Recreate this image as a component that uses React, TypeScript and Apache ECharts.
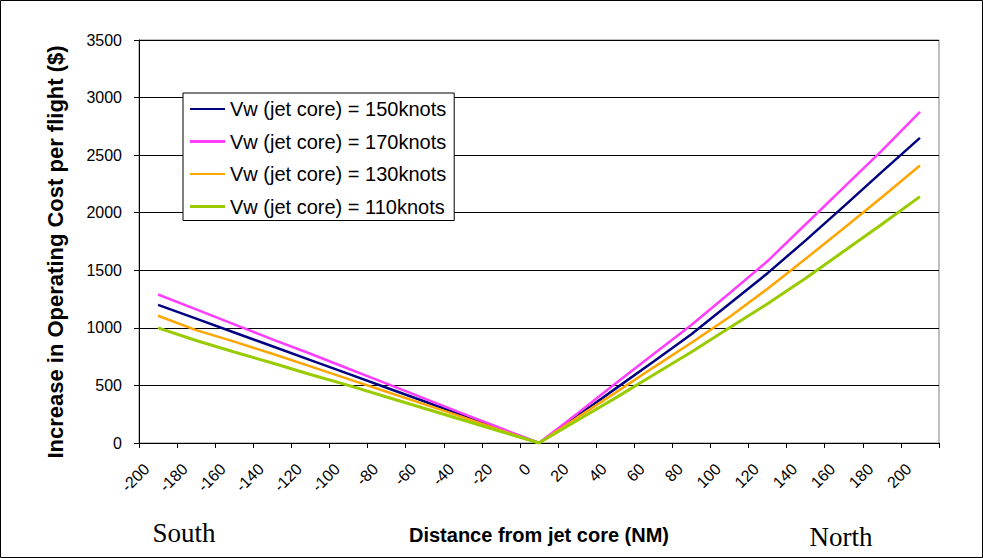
import React, { useEffect, useRef } from "react";
import * as echarts from "echarts";

const categories = ["-200","-180","-160","-140","-120","-100","-80","-60","-40","-20","0","20","40","60","80","100","120","140","160","180","200"];
const seriesNames = ["Vw (jet core) = 150knots","Vw (jet core) = 170knots","Vw (jet core) = 130knots","Vw (jet core) = 110knots"];
const v150 = [1200,1080,960,840,720,600,480,360,240,120,0,235,470,705,945,1210,1475,1760,2055,2355,2650];
const v170 = [1290,1160,1030,900,775,645,515,385,255,128,0,255,515,770,1025,1300,1580,1900,2220,2540,2875];
const v130 = [1105,980,880,775,665,555,445,335,225,110,0,220,435,655,870,1095,1340,1600,1865,2135,2410];
const v110 = [1000,890,790,695,595,500,400,300,200,100,0,195,390,590,790,1000,1210,1430,1665,1900,2140];
const yTicks = { min: 0, max: 3500, interval: 500 };

const SANS = "'Liberation Sans', Arial, sans-serif";
const SERIF = "'Liberation Serif', 'Times New Roman', serif";

export default function App() {
  const ref = useRef<HTMLDivElement>(null);
  useEffect(() => {
    if (!ref.current) return;
    const chart = echarts.init(ref.current, undefined, { renderer: "svg" });
    const mk = (name: string, data: number[], color: string, width: number) => ({
      name,
      type: "line",
      data,
      symbol: "none",
      showSymbol: false,
      lineStyle: { color, width },
      itemStyle: { color },
      emphasis: { disabled: true },
    });
    const thin = "path://M0 0H35V2H0Z";
    const thick = "path://M0 0H35V3H0Z";
    chart.setOption({
      animation: false,
      backgroundColor: "#fff",
      grid: { left: 139, right: 44, top: 40, bottom: 115, show: true, borderColor: "#808080", borderWidth: 1 },
      legend: {
        orient: "vertical",
        left: 183,
        top: 93,
        padding: [5, 8, 3, 7],
        itemGap: 10.5,
        itemWidth: 35,
        itemHeight: 3,
        symbolKeepAspect: true,
        backgroundColor: "#fff",
        borderColor: "#000",
        borderWidth: 1,
        textStyle: { fontSize: 20, fontFamily: SANS, color: "#000", lineHeight: 22 },
        data: [
          { name: seriesNames[0], icon: thin },
          { name: seriesNames[1], icon: thick },
          { name: seriesNames[2], icon: thin },
          { name: seriesNames[3], icon: thick },
        ],
      },
      xAxis: {
        type: "category",
        data: categories,
        boundaryGap: true,
        axisLine: { lineStyle: { color: "#000", width: 1 } },
        axisTick: { show: true, interval: 0, length: 5, lineStyle: { color: "#000" } },
        axisLabel: { interval: 0, rotate: 45, margin: 12, fontSize: 16, fontFamily: SANS, color: "#000", padding: [0, 16, 0, 0] },
        splitLine: { show: false },
        name: "Distance from jet core (NM)",
        nameLocation: "middle",
        nameGap: 82,
        nameTextStyle: { fontSize: 20, fontWeight: "bold", fontFamily: SANS, color: "#000" },
      },
      yAxis: {
        type: "value",
        min: yTicks.min,
        max: yTicks.max,
        interval: yTicks.interval,
        axisLine: { show: true, lineStyle: { color: "#000", width: 1 } },
        axisTick: { show: true, length: 5, lineStyle: { color: "#000" } },
        axisLabel: { fontSize: 16, fontFamily: SANS, color: "#000", margin: 17, formatter: (v: number) => String(v) },
        splitLine: { show: true, lineStyle: { color: "#000", width: 1 } },
      },
      graphic: [
        { type: "rect", shape: { x: 0.5, y: 0.5, width: 982, height: 557 }, style: { fill: "none", stroke: "#000", lineWidth: 1 }, silent: true },
        { type: "text", x: 55, y: 252, rotation: Math.PI / 2, style: { text: "Increase in Operating Cost per flight ($)", font: `bold 22px ${SANS}`, fill: "#000", textAlign: "center", textVerticalAlign: "middle" } },
        { type: "text", x: 184, y: 533, style: { text: "South", font: `27px ${SERIF}`, fill: "#000", textAlign: "center", textVerticalAlign: "middle" } },
        { type: "text", x: 841, y: 537, style: { text: "North", font: `27px ${SERIF}`, fill: "#000", textAlign: "center", textVerticalAlign: "middle" } },
      ],
      series: [
        mk(seriesNames[0], v150, "#000080", 2.5),
        mk(seriesNames[1], v170, "#FF3CFF", 2.5),
        mk(seriesNames[2], v130, "#FFA500", 2.5),
        mk(seriesNames[3], v110, "#99CC00", 3),
      ],
    });
    return () => chart.dispose();
  }, []);
  return <div ref={ref} style={{ position: "fixed", left: 0, top: 0, width: 983, height: 558, background: "#fff" }} />;
}
